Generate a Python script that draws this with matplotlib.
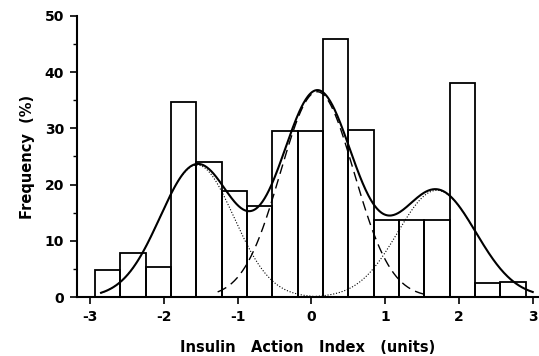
import numpy as np
import matplotlib
matplotlib.use("Agg")
import matplotlib.pyplot as plt
import matplotlib.ticker as mticker

plt.rcParams["axes.unicode_minus"] = False

# Histogram bins (insulin action index units) and bar heights (%)
bin_edges = [-2.931, -2.588, -2.245, -1.901, -1.558, -1.215, -0.871, -0.528,
             -0.185, 0.159, 0.502, 0.845, 1.189, 1.532, 1.875, 2.219, 2.562, 2.905]
freq = [4.8, 7.8, 5.3, 34.6, 24.0, 18.9, 16.2, 29.6, 29.6,
        45.8, 29.7, 13.7, 13.7, 13.7, 38.0, 2.6, 2.8]

# Gaussian components: peak height, mean, sd, drawn range
comp_names = ["low", "mid", "high"]
comp_peak = [23.5, 36.5, 19.0]
comp_mean = [-1.55, 0.08, 1.70]
comp_sd = [0.50, 0.50, 0.53]
comp_range = [(-2.85, 0.45), (-1.27, 1.55), (-0.25, 2.2)]
comp_style = [(0, (1, 1.6)), (0, (7, 4)), (0, (1, 1.6))]
total_range = (-2.85, 3.0)


def gauss(x, peak, mean, sd):
    return peak * np.exp(-(x - mean) ** 2 / (2 * sd ** 2))


fig = plt.figure(figsize=(5.39, 3.56), dpi=100)
ax = fig.add_axes([0.1423, 0.1649, 0.8577, 0.7910])

lefts = np.array(bin_edges[:-1])
widths = np.diff(bin_edges)
ax.bar(lefts, freq, width=widths, align="edge", facecolor="none",
       edgecolor="black", linewidth=1.3)

# individual components
for peak, mean, sd, (a, b), ls in zip(comp_peak, comp_mean, comp_sd, comp_range, comp_style):
    xs = np.linspace(a, b, 300)
    lw = 0.8 if ls[1][0] == 1 else 1.0
    ax.plot(xs, gauss(xs, peak, mean, sd), color="black", linestyle=ls, linewidth=lw)

# overall fitted curve
xs = np.linspace(total_range[0], total_range[1], 600)
total = sum(gauss(xs, p, m, s) for p, m, s in zip(comp_peak, comp_mean, comp_sd))
ax.plot(xs, total, color="black", linewidth=1.5)

ax.set_xlim(-3.18, 3.085)
ax.set_ylim(0, 50)
ax.spines["top"].set_visible(False)
ax.spines["right"].set_visible(False)
for s in ("left", "bottom"):
    ax.spines[s].set_linewidth(1.5)

ax.set_xticks([-3, -2, -1, 0, 1, 2, 3])
ax.set_yticks([0, 10, 20, 30, 40, 50])
ax.yaxis.set_minor_locator(mticker.MultipleLocator(5))
ax.tick_params(axis="both", which="major", length=5, width=1.2, labelsize=10, pad=4)
ax.tick_params(axis="y", which="minor", length=3, width=1.0)
for lab in ax.get_xticklabels() + ax.get_yticklabels():
    lab.set_fontweight("bold")

ax.set_xlabel("Insulin   Action   Index   (units)", fontsize=10.5,
              fontweight="bold", labelpad=12)
ax.set_ylabel("Frequency  (%)", fontsize=10.5, fontweight="bold", labelpad=7)

fig.savefig("out.png", dpi=100)
